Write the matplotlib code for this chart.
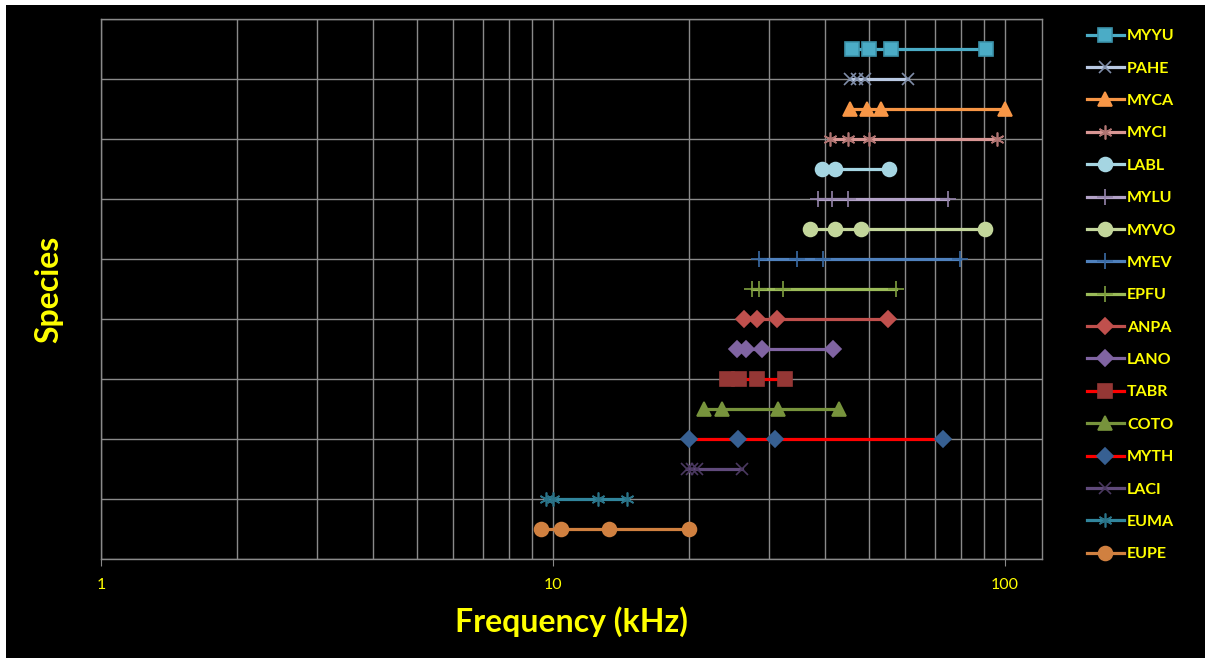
import matplotlib
matplotlib.use('Agg')
import matplotlib.pyplot as plt
from matplotlib.patches import Rectangle

plt.rcParams['font.family'] = ['Lato', 'DejaVu Sans']

# Species, top of the legend first
species = ['MYYU', 'PAHE', 'MYCA', 'MYCI', 'LABL', 'MYLU', 'MYVO', 'MYEV', 'EPFU',
           'ANPA', 'LANO', 'TABR', 'COTO', 'MYTH', 'LACI', 'EUMA', 'EUPE']
rows = list(range(17, 0, -1))

# Call frequencies (kHz)
MYYU = [46, 50, 56, 91]
PAHE = [45.5, 47, 49, 61]
MYCA = [45.5, 49.5, 53.3, 100]
MYCI = [41, 45, 50, 96]
LABL = [39.3, 42, 55.3]
MYLU = [38.5, 41.5, 45, 75]
MYVO = [37, 42, 48, 90.5]
MYEV = [28.5, 34.7, 39.5, 79.5]
EPFU = [27.6, 28.6, 32.3, 57.4]
ANPA = [26.4, 28.3, 31.3, 55]
LANO = [25.5, 26.7, 29, 41.7]
TABR = [24.3, 25.8, 28.3, 32.6]
COTO = [21.6, 23.7, 31.5, 43]
MYTH = [20, 25.7, 31, 73]
LACI = [19.8, 20.3, 20.8, 26.2]
EUMA = [9.65, 10, 12.6, 14.6]
EUPE = [9.4, 10.4, 13.3, 20]
freqs = [MYYU, PAHE, MYCA, MYCI, LABL, MYLU, MYVO, MYEV, EPFU,
         ANPA, LANO, TABR, COTO, MYTH, LACI, EUMA, EUPE]

STAR = (6, 2, 0)
# line colour, marker, face colour, edge colour, marker size
styles = {
    'MYYU': ('#4BACC6', 's', '#4BACC6', '#3C93AB', 9.5),
    'PAHE': ('#B9C9E3', 'x', 'none', '#7F8DA8', 9),
    'MYCA': ('#F79646', '^', '#F79646', '#F79646', 10),
    'MYCI': ('#D99694', STAR, 'none', '#B07472', 10),
    'LABL': ('#A5D5E2', 'o', '#A5D5E2', '#A5D5E2', 10),
    'MYLU': ('#B3A2C7', '+', 'none', '#9483AA', 11),
    'MYVO': ('#C3D69B', 'o', '#C3D69B', '#C3D69B', 10),
    'MYEV': ('#4F81BD', '+', 'none', '#3A6BA5', 11),
    'EPFU': ('#9BBB59', '+', 'none', '#7F9F3F', 11),
    'ANPA': ('#C0504D', 'D', '#C0504D', '#C0504D', 8),
    'LANO': ('#8064A2', 'D', '#8064A2', '#8064A2', 8),
    'TABR': ('#FF0000', 's', '#953735', '#953735', 9.5),
    'COTO': ('#77933C', '^', '#77933C', '#77933C', 10),
    'MYTH': ('#FF0000', 'D', '#376092', '#376092', 8),
    'LACI': ('#604A7B', 'x', 'none', '#4A3860', 9),
    'EUMA': ('#31859C', STAR, 'none', '#2A7388', 10),
    'EUPE': ('#D08040', 'o', '#D08040', '#D08040', 10),
}

W, H = 1205, 658
fig = plt.figure(figsize=(W / 100, H / 100), dpi=100, facecolor='white')
fig.patches.append(Rectangle((6 / W, 0), 1, (H - 5) / H, transform=fig.transFigure,
                             facecolor='black', edgecolor='none', zorder=-10))

ax = fig.add_axes([101 / W, (H - 559) / H, (1042 - 101) / W, (559 - 19) / H])
ax.set_facecolor('black')

for name, row, vals in zip(species, rows, freqs):
    lc, mk, fc, ec, ms = styles[name]
    ax.plot(vals, [row] * len(vals), color=lc, lw=2.3, marker=mk, ms=ms,
            markerfacecolor=fc, markeredgecolor=ec, markeredgewidth=1.2,
            label=name, zorder=3)

grid_c = '#8a8a8a'
ax.set_xscale('log')
ax.set_xlim(1, 120.8)
ax.set_ylim(0, 18)
ax.set_yticks(range(0, 19, 2))
ax.set_yticklabels([])
ax.tick_params(axis='y', length=0)
ax.set_xticks([1, 10, 100])
ax.set_xticklabels(['1', '10', '100'])
ax.tick_params(axis='x', which='major', length=5, color=grid_c, labelcolor='#FFFF00',
               labelsize=11.5, pad=9)
ax.tick_params(axis='x', which='minor', length=0)
ax.grid(True, which='both', axis='x', color=grid_c, lw=1)
ax.grid(True, which='major', axis='y', color=grid_c, lw=1)
ax.set_axisbelow(True)
for s in ax.spines.values():
    s.set_color(grid_c)
    s.set_linewidth(1)

ax.set_xlabel('Frequency (kHz)', color='#FFFF00', fontsize=23, fontweight='bold')
ax.xaxis.set_label_coords(0.5, -0.088)
ax.set_ylabel('Species', color='#FFFF00', fontsize=23, fontweight='bold')
ax.yaxis.set_label_coords(-0.04, 0.5)

leg = ax.legend(loc='upper left', bbox_to_anchor=(1087 / W, 1 - 29 / H),
                bbox_transform=fig.transFigure, frameon=False, borderpad=0,
                borderaxespad=0, handlelength=2.3, handletextpad=0.2,
                labelspacing=1.14, prop={'size': 11.5, 'weight': 'bold'})
for t in leg.get_texts():
    t.set_color('#FFFF00')

fig.savefig('out.png', dpi=100, facecolor=fig.get_facecolor())
